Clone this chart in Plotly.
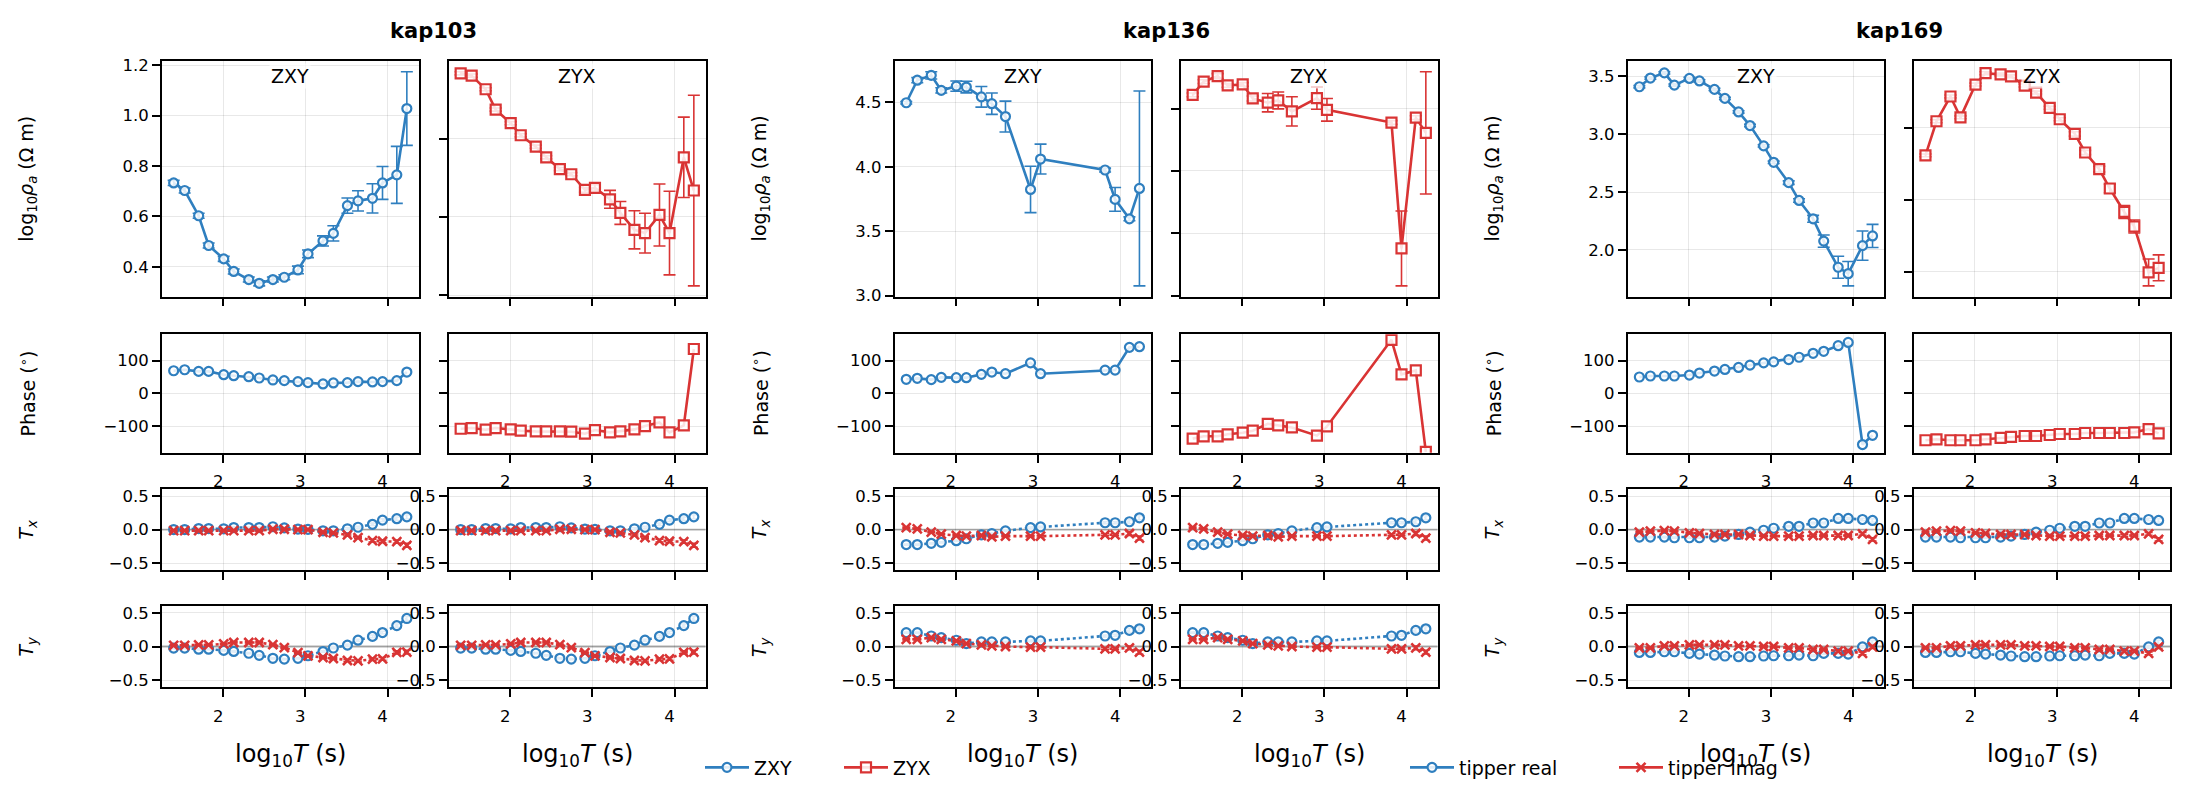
import plotly.graph_objects as go

# ---------------- data ----------------
stations = ["kap103", "kap136", "kap169"]

logT_20 = [1.398, 1.532, 1.702, 1.824, 2.007, 2.129, 2.312, 2.439, 2.605, 2.744,
           2.910, 3.032, 3.215, 3.341, 3.512, 3.641, 3.817, 3.939, 4.113, 4.235]
logT_15 = [1.398, 1.532, 1.702, 1.824, 2.007, 2.129, 2.312, 2.439, 2.605,
           2.910, 3.032, 3.817, 3.939, 4.113, 4.235]

# kap103
rho_xy_103 = [0.733, 0.703, 0.603, 0.485, 0.432, 0.382, 0.350, 0.335, 0.350, 0.359,
              0.388, 0.452, 0.503, 0.533, 0.643, 0.662, 0.672, 0.733, 0.765, 1.028]
err_xy_103 = [0.01, 0.01, 0.01, 0.01, 0.01, 0.01, 0.01, 0.01, 0.01, 0.01,
              0.015, 0.015, 0.02, 0.03, 0.03, 0.04, 0.058, 0.065, 0.113, 0.146]
rho_yx_103 = [1.417, 1.402, 1.315, 1.185, 1.098, 1.021, 0.948, 0.880, 0.805, 0.772,
              0.672, 0.685, 0.612, 0.525, 0.417, 0.396, 0.512, 0.396, 0.880, 0.668]
err_yx_103 = [0.01, 0.01, 0.01, 0.01, 0.01, 0.01, 0.01, 0.01, 0.01, 0.01,
              0.015, 0.02, 0.057, 0.073, 0.122, 0.127, 0.198, 0.267, 0.257, 0.609]
phs_xy_103 = [69, 72, 67, 67, 57, 54, 51, 47, 41, 39, 36, 33, 29, 32, 33, 36, 35, 36, 39, 65]
phs_yx_103 = [-107, -105, -110, -105, -109, -113, -115, -115, -115, -116,
              -122, -111, -118, -115, -109, -99, -88, -118, -97, 135]
tx_re_103 = [0.0, 0.0, 0.015, 0.015, 0.012, 0.03, 0.03, 0.03, 0.042, 0.025,
             0.008, 0.003, -0.018, -0.018, 0.012, 0.035, 0.079, 0.141, 0.163, 0.19]
tx_im_103 = [-0.015, -0.015, -0.015, -0.015, -0.015, -0.015, -0.015, -0.015, 0.005, 0.005,
             0.0, 0.0, -0.04, -0.05, -0.08, -0.12, -0.165, -0.175, -0.18, -0.235]
ty_re_103 = [-0.024, -0.024, -0.04, -0.04, -0.058, -0.073, -0.1, -0.131, -0.175, -0.187,
             -0.175, -0.137, -0.075, -0.022, 0.02, 0.094, 0.15, 0.207, 0.31, 0.416]
ty_im_103 = [0.017, 0.017, 0.024, 0.024, 0.039, 0.06, 0.06, 0.06, 0.027, -0.017,
             -0.09, -0.138, -0.163, -0.178, -0.207, -0.214, -0.188, -0.183, -0.088, -0.083]
tip_err_103 = [0.01, 0.01, 0.01, 0.01, 0.01, 0.01, 0.01, 0.01, 0.01, 0.01,
               0.01, 0.01, 0.012, 0.012, 0.015, 0.015, 0.02, 0.02, 0.025, 0.03]

# kap136
rho_xy_136 = [4.497, 4.672, 4.71, 4.593, 4.626, 4.619, 4.543, 4.49, 4.39,
              3.824, 4.06, 3.975, 3.747, 3.596, 3.832]
err_xy_136 = [0.01, 0.02, 0.028, 0.02, 0.04, 0.045, 0.08, 0.083, 0.12,
              0.18, 0.116, 0.015, 0.092, 0.015, 0.756]
rho_yx_136 = [4.609, 4.716, 4.76, 4.685, 4.693, 4.581, 4.547, 4.565, 4.477,
              4.583, 4.49, 4.388, 3.38, 4.427, 4.305]
err_yx_136 = [0.015, 0.015, 0.02, 0.015, 0.015, 0.02, 0.074, 0.068, 0.117,
              0.089, 0.091, 0.015, 0.30, 0.015, 0.49]
phs_xy_136 = [43, 46, 42, 49, 48, 48, 58, 65, 60, 93, 60, 71, 71, 140, 142]
phs_yx_136 = [-137, -130, -130, -124, -119, -113, -92, -97, -103, -128, -100, 163, 58, 70, -177]
tx_re_136 = [-0.224, -0.224, -0.205, -0.19, -0.166, -0.137, -0.078, -0.059, -0.02,
             0.029, 0.039, 0.102, 0.102, 0.117, 0.176]
tx_im_136 = [0.029, 0.01, -0.039, -0.068, -0.088, -0.098, -0.088, -0.107, -0.098,
             -0.098, -0.098, -0.078, -0.078, -0.059, -0.127]
ty_re_136 = [0.205, 0.205, 0.156, 0.132, 0.093, 0.044, 0.068, 0.068, 0.068,
             0.083, 0.083, 0.156, 0.166, 0.239, 0.263]
ty_im_136 = [0.107, 0.107, 0.132, 0.107, 0.083, 0.044, 0.024, 0.01, 0.0,
             -0.01, -0.01, -0.034, -0.034, -0.02, -0.083]
tip_err_136 = [0.01, 0.01, 0.01, 0.01, 0.01, 0.01, 0.01, 0.01, 0.01,
               0.012, 0.012, 0.015, 0.015, 0.03, 0.03]

# kap169
rho_xy_169 = [3.411, 3.486, 3.531, 3.425, 3.483, 3.461, 3.388, 3.31, 3.193, 3.075,
              2.899, 2.757, 2.581, 2.427, 2.268, 2.075, 1.849, 1.793, 2.036, 2.12]
err_xy_169 = [0.01, 0.01, 0.01, 0.01, 0.01, 0.01, 0.01, 0.01, 0.01, 0.01,
              0.01, 0.01, 0.015, 0.015, 0.03, 0.053, 0.095, 0.105, 0.126, 0.1]
rho_yx_169 = [2.808, 3.045, 3.217, 3.072, 3.30, 3.379, 3.370, 3.357, 3.293, 3.244,
              3.138, 3.059, 2.957, 2.828, 2.713, 2.578, 2.415, 2.314, 1.995, 2.027]
err_yx_169 = [0.01, 0.01, 0.01, 0.01, 0.01, 0.01, 0.01, 0.01, 0.01, 0.01,
              0.01, 0.01, 0.015, 0.015, 0.02, 0.03, 0.045, 0.045, 0.093, 0.09]
phs_xy_169 = [50, 53, 53, 53, 56, 62, 68, 73, 79, 86, 93, 96, 103, 110, 122, 128, 145, 155, -155, -127]
phs_yx_169 = [-142, -139, -142, -142, -142, -139, -135, -132, -129, -129,
              -126, -123, -123, -120, -120, -120, -120, -118, -108, -121]
tx_re_169 = [-0.112, -0.112, -0.112, -0.122, -0.122, -0.122, -0.112, -0.098, -0.073, -0.039,
             -0.01, 0.02, 0.049, 0.049, 0.098, 0.098, 0.166, 0.166, 0.151, 0.137]
tx_im_169 = [-0.039, -0.024, -0.015, -0.024, -0.049, -0.059, -0.073, -0.073, -0.073, -0.088,
             -0.098, -0.098, -0.098, -0.098, -0.088, -0.088, -0.088, -0.088, -0.063, -0.146]
ty_re_169 = [-0.088, -0.088, -0.078, -0.078, -0.102, -0.112, -0.127, -0.141, -0.151, -0.151,
             -0.141, -0.137, -0.137, -0.127, -0.137, -0.102, -0.102, -0.112, -0.005, 0.068]
ty_im_169 = [-0.02, -0.02, 0.01, 0.01, 0.024, 0.024, 0.024, 0.024, 0.01, 0.01,
             0.0, 0.0, -0.02, -0.02, -0.044, -0.044, -0.068, -0.068, -0.102, -0.005]
tip_err_169 = [0.01, 0.01, 0.01, 0.01, 0.01, 0.01, 0.01, 0.01, 0.01, 0.01,
               0.01, 0.01, 0.01, 0.01, 0.012, 0.012, 0.015, 0.015, 0.02, 0.025]

station_data = [
    dict(T=logT_20, rxy=rho_xy_103, exy=err_xy_103, ryx=rho_yx_103, eyx=err_yx_103,
         pxy=phs_xy_103, pyx=phs_yx_103, txr=tx_re_103, txi=tx_im_103,
         tyr=ty_re_103, tyi=ty_im_103, te=tip_err_103, dxy=0.2, dyx=0.5),
    dict(T=logT_15, rxy=rho_xy_136, exy=err_xy_136, ryx=rho_yx_136, eyx=err_yx_136,
         pxy=phs_xy_136, pyx=phs_yx_136, txr=tx_re_136, txi=tx_im_136,
         tyr=ty_re_136, tyi=ty_im_136, te=tip_err_136, dxy=0.5, dyx=0.5),
    dict(T=logT_20, rxy=rho_xy_169, exy=err_xy_169, ryx=rho_yx_169, eyx=err_yx_169,
         pxy=phs_xy_169, pyx=phs_yx_169, txr=tx_re_169, txi=tx_im_169,
         tyr=ty_re_169, tyi=ty_im_169, te=tip_err_169, dxy=0.5, dyx=0.5),
]

# ---------------- styling / layout ----------------
W, H = 2188, 806
FONT = "DejaVu Sans"
BLUE = "#2f7fbf"
RED = "#d93434"
FILL = "rgba(255,255,255,0.85)"
col_left = [[162, 449], [894.6, 1181], [1627.7, 1913.8]]
PW = 256.5
rows_px = [(57, 296.7), (335, 455.7), (493, 574.7), (611.7, 694)]

fig = go.Figure()
layout = dict(width=W, height=H, margin=dict(l=0, r=0, t=0, b=0),
              paper_bgcolor="white", plot_bgcolor="white",
              font=dict(family=FONT, size=16, color="black"),
              showlegend=True)
annotations = []
shapes = []


def axis_common():
    return dict(showline=True, linecolor="black", linewidth=1.8, mirror=True,
                ticks="outside", ticklen=8, tickwidth=1.6, tickcolor="black",
                showgrid=True, gridcolor="rgba(0,0,0,0.09)", gridwidth=1.2,
                zeroline=False, tickfont=dict(family=FONT, size=16.5))


def pad_range(vals, errs):
    lo = min(v - e for v, e in zip(vals, errs))
    hi = max(v + e for v, e in zip(vals, errs))
    p = 0.05 * (hi - lo)
    return [lo - p, hi + p]


for s, d in enumerate(station_data):
    T = d["T"]
    xr = [min(T) - 0.05 * (max(T) - min(T)), max(T) + 0.05 * (max(T) - min(T))]
    for r in range(4):
        for c in range(2):
            idx = s * 8 + r * 2 + c + 1
            sfx = "" if idx == 1 else str(idx)
            xn, yn = "x" + sfx, "y" + sfx
            l = col_left[s][c]
            top, bot = rows_px[r]
            xa = axis_common()
            xa.update(domain=[l / W, (l + PW) / W], anchor=yn, range=xr,
                      tickmode="linear", tick0=2, dtick=1,
                      showticklabels=(r in (1, 3)), ticklabelshift=-5,
                      ticklabelstandoff=5)
            ya = axis_common()
            ya.update(domain=[(H - bot) / H, (H - top) / H], anchor=xn)
            if r == 0:
                vals = d["rxy"] if c == 0 else d["ryx"]
                errs = d["exy"] if c == 0 else d["eyx"]
                ya.update(range=pad_range(vals, errs), tickmode="linear", tick0=0,
                          dtick=d["dxy"] if c == 0 else d["dyx"], tickformat=".1f",
                          showticklabels=(c == 0))
                color = BLUE if c == 0 else RED
                sym = "circle" if c == 0 else "square"
                fig.add_trace(go.Scatter(
                    x=T, y=vals, mode="lines+markers", xaxis=xn, yaxis=yn,
                    line=dict(color=color, width=2.6),
                    marker=dict(symbol=sym, size=9 if c == 0 else 10, color=FILL,
                                line=dict(color=color, width=2.2)),
                    error_y=dict(type="data", array=errs, color=color, thickness=1.6, width=6),
                    showlegend=False, hoverinfo="skip"))
                annotations.append(dict(
                    text="ZXY" if c == 0 else "ZYX", xref=xn + " domain", yref=yn + " domain",
                    x=0.5, y=0.99, xanchor="center", yanchor="top", showarrow=False,
                    font=dict(family=FONT, size=19, color="black"),
                    bgcolor="rgba(255,255,255,0.7)", borderpad=1))
            elif r == 1:
                vals = d["pxy"] if c == 0 else d["pyx"]
                ya.update(range=[-180, 180], tickmode="linear", tick0=0, dtick=100,
                          showticklabels=(c == 0))
                color = BLUE if c == 0 else RED
                sym = "circle" if c == 0 else "square"
                fig.add_trace(go.Scatter(
                    x=T, y=vals, mode="lines+markers", xaxis=xn, yaxis=yn,
                    line=dict(color=color, width=2.6),
                    marker=dict(symbol=sym, size=9 if c == 0 else 10, color=FILL,
                                line=dict(color=color, width=2.2)),
                    showlegend=False, hoverinfo="skip"))
            else:
                re = d["txr"] if r == 2 else d["tyr"]
                im = d["txi"] if r == 2 else d["tyi"]
                ya.update(range=[-0.6, 0.6], tickmode="array",
                          tickvals=[-0.5, 0.0, 0.5], ticktext=["\u22120.5", "0.0", "0.5"],
                          showticklabels=True)
                shapes.append(dict(type="line", xref=xn + " domain", yref=yn,
                                   x0=0, x1=1, y0=0, y1=0, layer="below",
                                   line=dict(color="#b0b0b0", width=1.8)))
                fig.add_trace(go.Scatter(
                    x=T, y=re, mode="lines+markers", xaxis=xn, yaxis=yn,
                    line=dict(color=BLUE, width=2.6, dash="dot"),
                    marker=dict(symbol="circle", size=9, color=FILL,
                                line=dict(color=BLUE, width=2.2)),
                    error_y=dict(type="data", array=d["te"], color=BLUE, thickness=1.4, width=4),
                    showlegend=False, hoverinfo="skip"))
                fig.add_trace(go.Scatter(
                    x=T, y=im, mode="lines+markers", xaxis=xn, yaxis=yn,
                    line=dict(color=RED, width=2.6, dash="dot"),
                    marker=dict(symbol="x-thin", size=9, color=RED,
                                line=dict(color=RED, width=2.6)),
                    error_y=dict(type="data", array=d["te"], color=RED, thickness=1.4, width=4),
                    showlegend=False, hoverinfo="skip"))
            layout["xaxis" + sfx] = xa
            layout["yaxis" + sfx] = ya

            # axis labels as annotations
            cx = (l + PW / 2) / W
            if c == 0:
                ylabels = ["log<sub>10</sub><i>ρ</i><sub><i>a</i></sub> (Ω m)",
                           "Phase (<sup>∘</sup>)",
                           "<i>T<sub>x</sub></i>", "<i>T<sub>y</sub></i>"]
                annotations.append(dict(
                    text=ylabels[r], xref="paper", yref="paper",
                    x=(l - 134) / W, y=(H - (top + bot) / 2) / H,
                    xanchor="center", yanchor="middle", textangle=-90, showarrow=False,
                    font=dict(family=FONT, size=19, color="black")))
            if r == 3:
                annotations.append(dict(
                    text="log<sub>10</sub><i>T</i> (s)", xref="paper", yref="paper",
                    x=cx, y=(H - 764) / H, xanchor="center", yanchor="middle",
                    showarrow=False, font=dict(family=FONT, size=24, color="black")))
    # station title
    sc = (col_left[s][0] + col_left[s][1] + PW) / 2 / W
    annotations.append(dict(text=f"<b>{stations[s]}</b>", xref="paper", yref="paper",
                            x=sc, y=(H - 26) / H, xanchor="center", yanchor="middle",
                            showarrow=False, font=dict(family=FONT, size=21, color="black")))

# legend-only entries
fig.add_trace(go.Scatter(x=[None], y=[None], mode="lines+markers", name="ZXY",
                         line=dict(color=BLUE, width=2.6),
                         marker=dict(symbol="circle", size=9, color=FILL, line=dict(color=BLUE, width=2.2)),
                         legend="legend"))
fig.add_trace(go.Scatter(x=[None], y=[None], mode="lines+markers", name="ZYX",
                         line=dict(color=RED, width=2.6),
                         marker=dict(symbol="square", size=10, color=FILL, line=dict(color=RED, width=2.2)),
                         legend="legend"))
fig.add_trace(go.Scatter(x=[None], y=[None], mode="lines+markers", name="tipper real",
                         line=dict(color=BLUE, width=2.6),
                         marker=dict(symbol="circle", size=9, color=FILL, line=dict(color=BLUE, width=2.2)),
                         legend="legend2"))
fig.add_trace(go.Scatter(x=[None], y=[None], mode="lines+markers", name="tipper imag",
                         line=dict(color=RED, width=2.6),
                         marker=dict(symbol="x-thin", size=9, color=RED, line=dict(color=RED, width=2.6)),
                         legend="legend2"))

leg_common = dict(orientation="h", yanchor="middle", xanchor="left",
                  font=dict(family=FONT, size=19, color="black"),
                  bgcolor="rgba(0,0,0,0)", itemwidth=44, entrywidthmode="pixels")
layout["legend"] = dict(leg_common, x=700 / W, y=(H - 776) / H, entrywidth=80)
layout["legend2"] = dict(leg_common, x=1405 / W, y=(H - 776) / H, entrywidth=150)
layout["annotations"] = annotations
layout["shapes"] = shapes
fig.update_layout(**layout)

fig.write_html("out.html", config={"displayModeBar": False},
               post_script="document.body.style.margin='0px';")
